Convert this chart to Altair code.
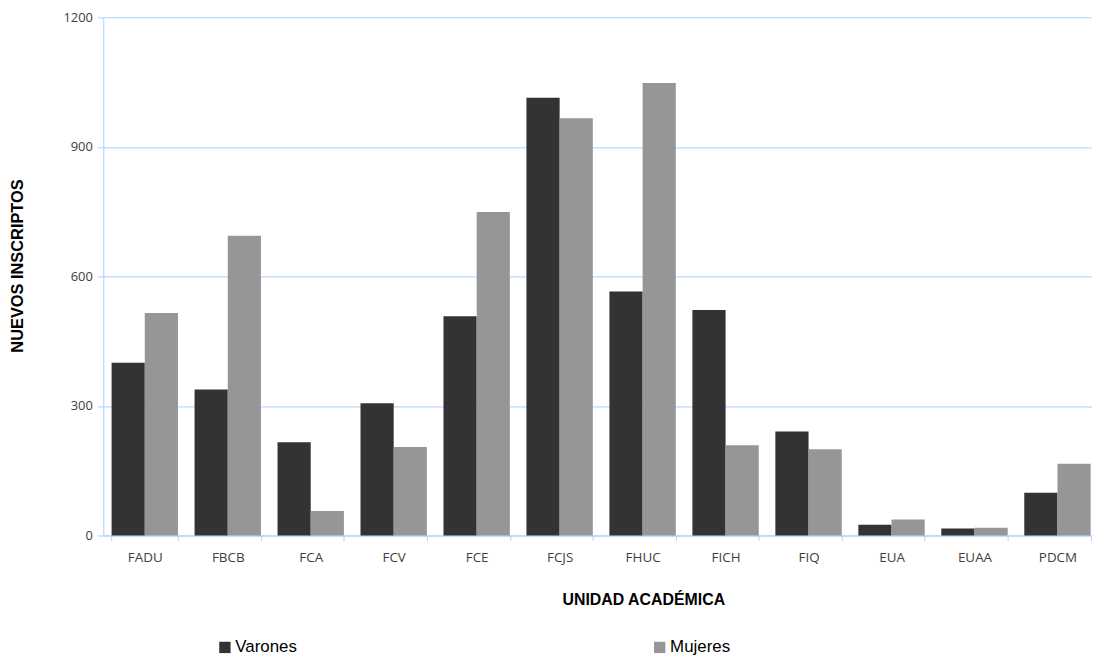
import altair as alt
import pandas as pd

categories = ["FADU", "FBCB", "FCA", "FCV", "FCE", "FCJS", "FHUC", "FICH", "FIQ", "EUA", "EUAA", "PDCM"]
varones = [400, 338, 216, 306, 508, 1014, 565, 522, 241, 25, 16, 99]
mujeres = [515, 694, 57, 205, 749, 966, 1048, 209, 200, 37, 18, 166]
series = ["Varones", "Mujeres"]
colors = ["#333333", "#969696"]
y_ticks = [0, 300, 600, 900, 1200]

rows = []
for c, v, m in zip(categories, varones, mujeres):
    rows.append({"unidad": c, "serie": "Varones", "valor": v})
    rows.append({"unidad": c, "serie": "Mujeres", "valor": m})
df = pd.DataFrame(rows)

grid_blue = "#a9d1ff"
narrow = "Liberation Sans Narrow, Arial Narrow, Liberation Sans"

chart = alt.Chart(df).mark_bar().encode(
    x=alt.X("unidad:N", sort=categories,
            scale=alt.Scale(paddingInner=0.2, paddingOuter=0.1, range=[0, 1003]),
            axis=alt.Axis(title="UNIDAD ACADÉMICA", labelAngle=0, labelFont="Open Sans",
                          labelFontSize=13.5, labelColor="#404040", labelPadding=21,
                          labelBaseline="alphabetic",
                          domainColor=grid_blue, tickColor=grid_blue, tickSize=5,
                          tickBand="extent", titleFont=narrow, titleFontSize=16,
                          titleFontWeight="bold", titleColor="#000000", titleX=544, titleY=70,
                          titleBaseline="alphabetic", titleAlign="center")),
    xOffset=alt.XOffset("serie:N", sort=series),
    y=alt.Y("valor:Q", scale=alt.Scale(domain=[0, 1200]),
            axis=alt.Axis(title="NUEVOS INSCRIPTOS", values=y_ticks, format="d",
                          labelFont="Open Sans", labelFontSize=13, labelColor="#404040",
                          labelPadding=5, domainColor=grid_blue, tickColor=grid_blue,
                          tickSize=6, gridColor=grid_blue, gridWidth=1,
                          titleFont=narrow, titleFontSize=16.5, titleFontWeight="bold",
                          titleColor="#000000", titleX=-81, titleY=250, titleAngle=-90,
                          titleBaseline="alphabetic", titleAlign="center")),
    color=alt.Color("serie:N", sort=series,
                    scale=alt.Scale(domain=series, range=colors),
                    legend=alt.Legend(title=None, orient="none", legendX=114, legendY=626,
                                      direction="horizontal", symbolType="square",
                                      symbolSize=130, symbolStrokeWidth=0, labelFont=narrow,
                                      labelFontSize=17, labelColor="#000000", labelOffset=2,
                                      columnPadding=356, padding=0)),
).properties(
    width=996, height=522,
    padding={"left": 96, "top": 7, "right": 0, "bottom": 120},
    autosize=alt.AutoSizeParams(type="none"),
).configure_view(stroke=None)

chart.save("out.html", embed_options={"renderer": "svg", "actions": False})
